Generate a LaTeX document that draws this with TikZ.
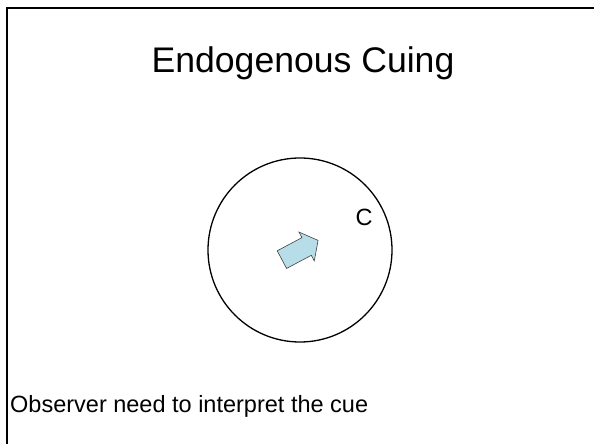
\documentclass[tikz,border=0pt]{standalone}
\usepackage{fontspec}
\setmainfont{Liberation Sans}
\definecolor{cuefill}{HTML}{B7DEE8}
\begin{document}
\begin{tikzpicture}[x=1pt,y=1pt]
		\tikzset{label/.style = {inner sep = 0pt, font=\fontsize{23.5}{27}\selectfont}}
		\tikzset{cue/.style = {draw=black!75, line width = 0.6pt, fill=cuefill}}

		\useasboundingbox (0,0) rectangle (594,444);
		\draw[line width = 2pt] (7,-2) -- (7,436) -- (596,436);

		\node[inner sep = 0pt, anchor=base, font=\fontsize{35.6}{40}\selectfont] (title) at (303,371.3) {Endogenous Cuing};

		\node[draw, circle, line width = 1.3pt, minimum size = 184pt] (field) at (300,194) {};
		\node[label, anchor=base] (C) at (364,218.3) {C};

		\draw[cue, shift={(field.center)}, rotate=28]
			(-20.5,-10) -- (7.5,-10) -- (7.5,-16.3) -- (20.5,0) -- (7.5,16.3) -- (7.5,10) -- (-20.5,10) -- cycle;

		\node[label, anchor=base west] (text) at (10,31) {Observer need to interpret the cue};

	\end{tikzpicture}
\end{document}
